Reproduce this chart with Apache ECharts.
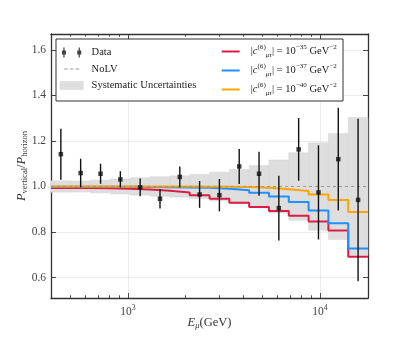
<!DOCTYPE html>
<html>
<head>
<meta charset="utf-8">
<script src="https://cdn.jsdelivr.net/npm/echarts@6/dist/echarts.min.js"></script>
<style>
html, body { margin: 0; padding: 0; background: #fff; }
#chart { width: 409px; height: 341px; }
</style>
</head>
<body>
<div id="chart"></div>
<script>
// bins (GeV)
var binEdges = [398.1, 504.8, 640.0, 811.6, 1029.2, 1305.1, 1654.9, 2098.6, 2661.1, 3374.5, 4279.0, 5426.1, 6880.7, 8725.1, 11064, 14030, 17783];
var binCenters = [448, 568, 721, 914, 1159, 1470, 1864, 2363, 2996, 3799, 4818, 6108, 7745, 9822, 12454, 15791];

var dataRatio = [1.142, 1.059, 1.056, 1.031, 0.996, 0.946, 1.042, 0.965, 0.962, 1.088, 1.056, 0.905, 1.163, 0.974, 1.120, 0.941];
var dataErr = [0.112, 0.063, 0.044, 0.036, 0.039, 0.043, 0.046, 0.059, 0.071, 0.077, 0.097, 0.142, 0.138, 0.207, 0.226, 0.357];
var sysErr = [0.025, 0.024, 0.028, 0.033, 0.038, 0.043, 0.047, 0.053, 0.063, 0.075, 0.092, 0.116, 0.148, 0.192, 0.233, 0.303];

var lv35 = [0.993, 0.993, 0.992, 0.990, 0.987, 0.981, 0.974, 0.962, 0.946, 0.928, 0.910, 0.892, 0.871, 0.846, 0.807, 0.691];
var lv37 = [0.999, 0.999, 0.999, 0.999, 0.998, 0.997, 0.996, 0.994, 0.990, 0.983, 0.972, 0.956, 0.932, 0.894, 0.838, 0.727];
var lv40 = [1.000, 1.000, 1.000, 1.000, 1.000, 1.000, 1.000, 0.999, 0.999, 0.998, 0.994, 0.988, 0.980, 0.965, 0.941, 0.888];
var lvExponents = ['−35', '−37', '−40'];

var xMajor = [1000, 10000];
var xMinor = [500, 600, 700, 800, 900, 2000, 3000, 4000, 5000, 6000, 7000, 8000, 9000];
var yTicks = [0.6, 0.8, 1.0, 1.2, 1.4, 1.6];
var yMin = 0.51, yMax = 1.67;

var chart = echarts.init(document.getElementById('chart'));
var lg = Math.log10;
var SERIF = 'Liberation Serif';
var xMin = lg(binEdges[0]), xMax = lg(binEdges[binEdges.length - 1]);
var frameColor = '#333';

function stepData(vals) {
  var out = [];
  for (var i = 0; i < vals.length; i++) out.push([lg(binEdges[i]), vals[i]]);
  out.push([lg(binEdges[vals.length]), vals[vals.length - 1]]);
  return out;
}

function richSet(size, color) {
  return {
    t: { fontFamily: SERIF, fontSize: size, color: color, lineHeight: 15, verticalAlign: 'middle' },
    i: { fontFamily: SERIF, fontStyle: 'italic', fontSize: size, color: color, lineHeight: 15, verticalAlign: 'middle' },
    sup: { fontFamily: SERIF, fontSize: size * 0.68, color: color, lineHeight: 9, verticalAlign: 'top' },
    sub: { fontFamily: SERIF, fontSize: size * 0.68, color: color, lineHeight: 7, verticalAlign: 'bottom' },
    subi: { fontFamily: SERIF, fontStyle: 'italic', fontSize: size * 0.68, color: color, lineHeight: 7, verticalAlign: 'bottom' }
  };
}

var bandData = sysErr.map(function (e, i) {
  return [lg(binEdges[i]), lg(binEdges[i + 1]), 1 - e, 1 + e];
});
var errData = binCenters.map(function (c, i) {
  return [lg(c), dataRatio[i] - dataErr[i], dataRatio[i] + dataErr[i]];
});
var pointData = binCenters.map(function (c, i) { return [lg(c), dataRatio[i]]; });

// legend icons (tiny corner dots keep the path box at full item size)
var corners = 'M0,0h0.01v0.01h-0.01Z M0,9.99h0.01v0.01h-0.01Z ';
var dataIcon = 'path://M1.4,0H2.6V3H4V7H2.6V10H1.4V7H0V3H1.4Z M16.7,0H17.9V3H19.3V7H17.9V10H16.7V7H15.3V3H16.7Z';
var dashIcon = 'path://' + corners + 'M0,4.5H3.6V5.5H0Z M5.7,4.5H9.3V5.5H5.7Z M11.4,4.5H15V5.5H11.4Z';
var lineIcon = 'path://M0,0H18V2H0Z';

function xAxisBase(pos, ticks, len, showLine) {
  return {
    type: 'value', position: pos, min: xMin, max: xMax, gridIndex: 0,
    axisLine: { show: showLine, onZero: false, lineStyle: { color: frameColor, width: 1.3 } },
    axisTick: { show: true, inside: true, length: len, customValues: ticks.map(lg), lineStyle: { color: frameColor, width: 0.9 } },
    axisLabel: { show: false },
    splitLine: { show: false }
  };
}

var xMainAxis = xAxisBase('bottom', xMajor, 5, true);
xMainAxis.splitNumber = 2;
xMainAxis.splitLine = { show: true, lineStyle: { color: '#cfcfcf', width: 0.8, type: 'dotted' } };
xMainAxis.axisLabel = {
  show: true, margin: 6, customValues: xMajor.map(lg),
  formatter: function (v) { return '{t|10}{sup|' + Math.round(v) + '}'; },
  rich: richSet(11.5, '#444')
};
xMainAxis.name = '{i|E}{subi|μ}{t|(GeV)}';
xMainAxis.nameLocation = 'middle';
xMainAxis.nameGap = 17;
xMainAxis.nameMoveOverlap = false;
xMainAxis.nameTextStyle = { rich: richSet(12.5, '#333') };

var option = {
  animation: false,
  backgroundColor: '#fff',
  grid: { left: 51, right: 41, top: 34, bottom: 43, containLabel: false, outerBoundsMode: 'none' },
  xAxis: [
    xMainAxis,
    xAxisBase('bottom', xMinor, 2.7, false),
    xAxisBase('top', xMajor, 5, true),
    xAxisBase('top', xMinor, 2.7, false)
  ],
  yAxis: [
    {
      type: 'value', position: 'left', min: yMin, max: yMax,
      axisLine: { show: true, onZero: false, lineStyle: { color: frameColor, width: 1.3 } },
      axisTick: { show: true, inside: true, length: 5, customValues: yTicks, lineStyle: { color: frameColor, width: 0.9 } },
      axisLabel: {
        margin: 5, customValues: yTicks, color: '#444', fontFamily: SERIF, fontSize: 11.5,
        formatter: function (v) { return v.toFixed(1); }
      },
      splitLine: { show: true, lineStyle: { color: '#cfcfcf', width: 0.8, type: 'dotted' } },
      name: '{i|P}{sub|vertical}{t|/}{i|P}{sub|horizon}',
      nameLocation: 'middle', nameGap: 22, nameMoveOverlap: false,
      nameTextStyle: { rich: richSet(12.5, '#333') }
    },
    {
      type: 'value', position: 'right', min: yMin, max: yMax,
      axisLine: { show: true, onZero: false, lineStyle: { color: frameColor, width: 1.3 } },
      axisTick: { show: true, inside: true, length: 5, customValues: yTicks, lineStyle: { color: frameColor, width: 0.9 } },
      axisLabel: { show: false },
      splitLine: { show: false }
    }
  ],
  legend: [
    {
      orient: 'vertical', left: 59.6, top: 47, padding: 0,
      itemWidth: 24, itemHeight: 10, itemGap: 5.5, selectedMode: false,
      textStyle: { fontFamily: SERIF, fontSize: 10.5, color: '#222', padding: [0, 0, 0, 3] },
      data: [
        { name: 'Data', icon: dataIcon },
        { name: 'NoLV', icon: dashIcon },
        { name: 'Systematic Uncertainties', icon: 'path://M1,1H23V9H1Z' }
      ]
    },
    {
      orient: 'vertical', left: 221.7, top: 44, padding: 0,
      itemWidth: 18, itemHeight: 10, itemGap: 4, selectedMode: false,
      icon: lineIcon,
      textStyle: { padding: [0, 0, 0, 6], rich: richSet(10.5, '#222') },
      formatter: function (name) {
        var e = lvExponents[['c35', 'c37', 'c40'].indexOf(name)];
        return '{t||}{i|c}{sup|(6)}{subi|μτ}{t|| = 10}{sup|' + e + '}{t| GeV}{sup|−2}';
      },
      data: ['c35', 'c37', 'c40']
    }
  ],
  graphic: [{
    type: 'rect', z: 3,
    shape: { x: 56, y: 39, width: 287, height: 62 },
    style: { fill: '#fff', stroke: '#333', lineWidth: 1 }
  }],
  series: [
    {
      name: 'Systematic Uncertainties', type: 'custom', z: 1,
      itemStyle: { color: '#dedede' },
      encode: { x: [0, 1], y: [2, 3] },
      data: bandData,
      renderItem: function (params, api) {
        var p1 = api.coord([api.value(0), api.value(3)]);
        var p2 = api.coord([api.value(1), api.value(2)]);
        return {
          type: 'rect',
          shape: { x: p1[0], y: p1[1], width: p2[0] - p1[0], height: p2[1] - p1[1] },
          style: { fill: '#dedede', stroke: '#d4d4d4', lineWidth: 0.5 }
        };
      }
    },
    {
      name: 'c35', type: 'line', step: 'end', showSymbol: false, symbol: 'none', z: 3,
      color: '#dc1e46', lineStyle: { color: '#dc1e46', width: 2 },
      data: stepData(lv35)
    },
    {
      name: 'c37', type: 'line', step: 'end', showSymbol: false, symbol: 'none', z: 3,
      color: '#1e90ff', lineStyle: { color: '#1e90ff', width: 2 },
      data: stepData(lv37)
    },
    {
      name: 'c40', type: 'line', step: 'end', showSymbol: false, symbol: 'none', z: 3,
      color: '#ffa500', lineStyle: { color: '#ffa500', width: 2 },
      data: stepData(lv40)
    },
    {
      name: 'NoLV', type: 'line', showSymbol: false, symbol: 'none', z: 4,
      color: '#999', lineStyle: { color: '#999', width: 1, type: [3, 3] },
      data: [[xMin, 1], [xMax, 1]]
    },
    {
      name: 'errbar', type: 'custom', z: 5,
      encode: { x: 0, y: [1, 2] },
      data: errData,
      renderItem: function (params, api) {
        var a = api.coord([api.value(0), api.value(1)]);
        var b = api.coord([api.value(0), api.value(2)]);
        return {
          type: 'line',
          shape: { x1: a[0], y1: a[1], x2: b[0], y2: b[1] },
          style: { stroke: '#111', lineWidth: 1.4 }
        };
      }
    },
    {
      name: 'Data', type: 'scatter', z: 6,
      symbol: 'rect', symbolSize: 4.5,
      itemStyle: { color: '#111' },
      data: pointData
    }
  ]
};
chart.setOption(option);
</script>
</body>
</html>
